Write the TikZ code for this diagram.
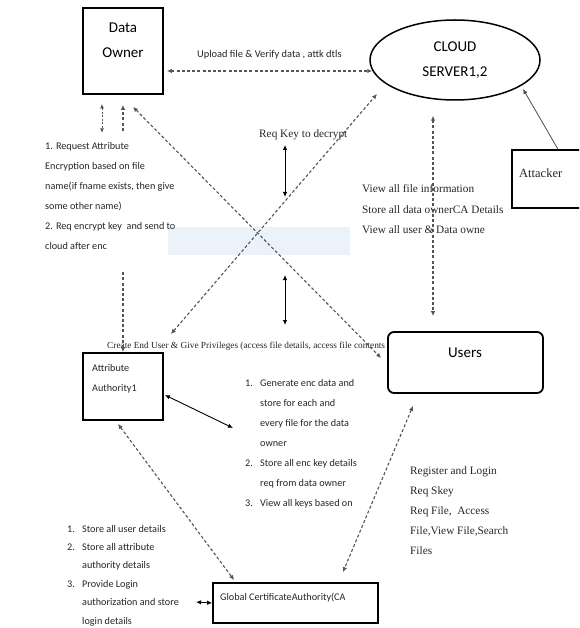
\documentclass[tikz,border=0pt]{standalone}
\usepackage{fontspec}
\setmainfont{Carlito}
\newfontfamily\serifx{Liberation Serif}
\usetikzlibrary{arrows.meta,calc,shapes.geometric}
\definecolor{wmark}{RGB}{236,242,250}
\definecolor{lnc}{RGB}{85,85,85}
\begin{document}
\begin{tikzpicture}[x=1pt,y=-1pt,
  box/.style={draw,line width=1.8pt,inner sep=0pt},
  dsh/.style={draw=lnc,line width=1.1pt,dash pattern=on 3pt off 2.2pt,{Latex[length=5pt,width=4.5pt]}-{Latex[length=5pt,width=4.5pt]}},
  dsho/.style={draw=lnc,line width=1.1pt,dash pattern=on 3pt off 2.2pt,-{Latex[length=5pt,width=4.5pt]}},
  sol/.style={draw,line width=0.9pt,{Latex[length=5pt,width=4.5pt]}-{Latex[length=5pt,width=4.5pt]}},
  boxlabel/.style={inner sep=0pt,align=center,font=\fontsize{15}{25}\selectfont},
  sans/.style={inner sep=0pt,anchor=base west,font=\fontsize{10.2}{20}\selectfont,text=black!85},
  serif/.style={inner sep=0pt,anchor=base west,font=\serifx\fontsize{11.3}{20.2}\selectfont,text=black!85},
]
\useasboundingbox (0,0) rectangle (579,628);
\clip (0,0) rectangle (579,628);
\fill[white] (0,0) rectangle (579,628);
\fill[wmark] (168,227) rectangle (350,255);

% boxes
\node[box,minimum width=80pt,minimum height=86pt] (do) at (123,51) {};
\node[boxlabel] (dotxt) at (123,40) {Data\\Owner};
\node[draw,ellipse,line width=1.5pt,minimum width=170pt,minimum height=80pt,inner sep=0pt,align=center,font=\fontsize{15}{25}\selectfont] (cloud) at (455,60) {CLOUD\\SERVER1,2};
\node[box,line width=1.5pt,minimum width=78pt,minimum height=58pt] (atk) at (551,179) {};
\node[serif,font=\serifx\fontsize{12.5}{16}\selectfont] (atktxt) at (519,178) {Attacker};
\node[box,rounded corners=6pt,minimum width=155pt,minimum height=61pt] (users) at (465.5,362.5) {};
\node[boxlabel] (usrtxt) at (465,353) {Users};
\node[box,minimum width=80pt,minimum height=67pt] (aa) at (123,386.5) {};
\node[sans,font=\fontsize{10.2}{20}\selectfont] (aatxt) at (92,371) {\begin{tabular}[t]{@{}l@{}}Attribute\\Authority1\end{tabular}};
\node[box,minimum width=165pt,minimum height=40pt] (gca) at (295.5,603) {};
\node[sans,font=\fontsize{10.2}{12}\selectfont] (gcatxt) at (220,600) {Global CertificateAuthority(CA};

% text blocks
\node[sans] (t1) at (45,150) {\begin{tabular}[t]{@{}l@{}}1. Request Attribute\\Encryption based on file\\name(if fname exists, then give\\some other name)\\2. Req encrypt key\ \ and send to\\cloud after enc\end{tabular}};
\node[sans] (t2) at (245,386) {\begin{tabular}[t]{@{}l@{}}\makebox[15pt][l]{1.}Generate enc data and\\\hspace*{15pt}store for each and\\\hspace*{15pt}every file for the data\\\hspace*{15pt}owner\\\makebox[15pt][l]{2.}Store all enc key details\\\hspace*{15pt}req from data owner\\\makebox[15pt][l]{3.}View all keys based on\end{tabular}};
\node[sans,font=\fontsize{10.2}{18.4}\selectfont] (t3) at (67,532) {\begin{tabular}[t]{@{}l@{}}\makebox[15pt][l]{1.}Store all user details\\\makebox[15pt][l]{2.}Store all attribute\\\hspace*{15pt}authority details\\\makebox[15pt][l]{3.}Provide Login\\\hspace*{15pt}authorization and store\\\hspace*{15pt}login details\end{tabular}};
\node[serif] (t4) at (410,474) {\begin{tabular}[t]{@{}l@{}}Register and Login\\Req Skey\\Req File,\ \ Access\\File,View File,Search\\Files\end{tabular}};
\node[serif,fill=white] (t5) at (362,193) {\begin{tabular}[t]{@{}l@{}}View all file information\\Store all data ownerCA Details\\View all user \& Data owne\end{tabular}};
\node[sans,font=\fontsize{10.4}{12}\selectfont] (lup) at (197,58) {Upload file \& Verify data , attk dtls};
\node[serif] (lreq) at (259,138) {Req Key to decrypt};
\node[serif,font=\serifx\fontsize{9.3}{10}\selectfont] (lcreate) at (107,348) {Create End User \& Give Privileges (access file details, access file contents};

% connectors
\draw[dsh] ($(do.east)+(3,20)$) -- ($(cloud.west)+(3,11)$);
\draw[dsh] ($(do.south)+(10,12)$) -- ($(users.west)+(-6,-4.5)$);
\draw[dsh] ($(aa.north east)+(7,-18)$) -- ($(cloud.center)+(-78,34)$);
\draw[draw=lnc,line width=1pt,dash pattern=on 2pt off 1.6pt,{Latex[length=4.5pt,width=4pt]}-{Latex[length=4.5pt,width=4pt]}] ($(do.south)+(-21,9)$) -- ($(do.south)+(-21,38)$);
\draw[dsho] ($(do.south)+(0,36)$) -- ($(do.south)+(0,10)$);
\draw[dsho] ($(aa.north)+(0,-80)$) -- (aa.north);
\coordinate (rk1) at (285,145);
\coordinate (rk2) at (285,197);
\coordinate (rk3) at (285,275);
\coordinate (rk4) at (285,325);
\draw[sol] (rk1) -- (rk2);
\draw[sol] (rk3) -- (rk4);
\draw[dsh] ($(cloud.south)+(-22,15)$) -- ($(users.north)+(-32.5,-15)$);
\draw[draw=black!70,line width=0.8pt,-{Latex[length=5pt,width=4.5pt]}] ($(atk.north)+(7,0)$) -- ($(cloud.center)+(68,29)$);
\draw[sol] ($(aa.east)+(1,8.5)$) -- ($(t2.base west)+(-12,42)$);
\draw[dsh] ($(aa.south)+(-5,3)$) -- ($(gca.north west)+(22,-2)$);
\draw[dsh] ($(users.south)+(-52.5,12)$) -- ($(gca.north east)+(-36,-10)$);
\draw[sol,line width=0.8pt] ($(gca.west)+(-16,-1)$) -- (gca.west);
\end{tikzpicture}
\end{document}
